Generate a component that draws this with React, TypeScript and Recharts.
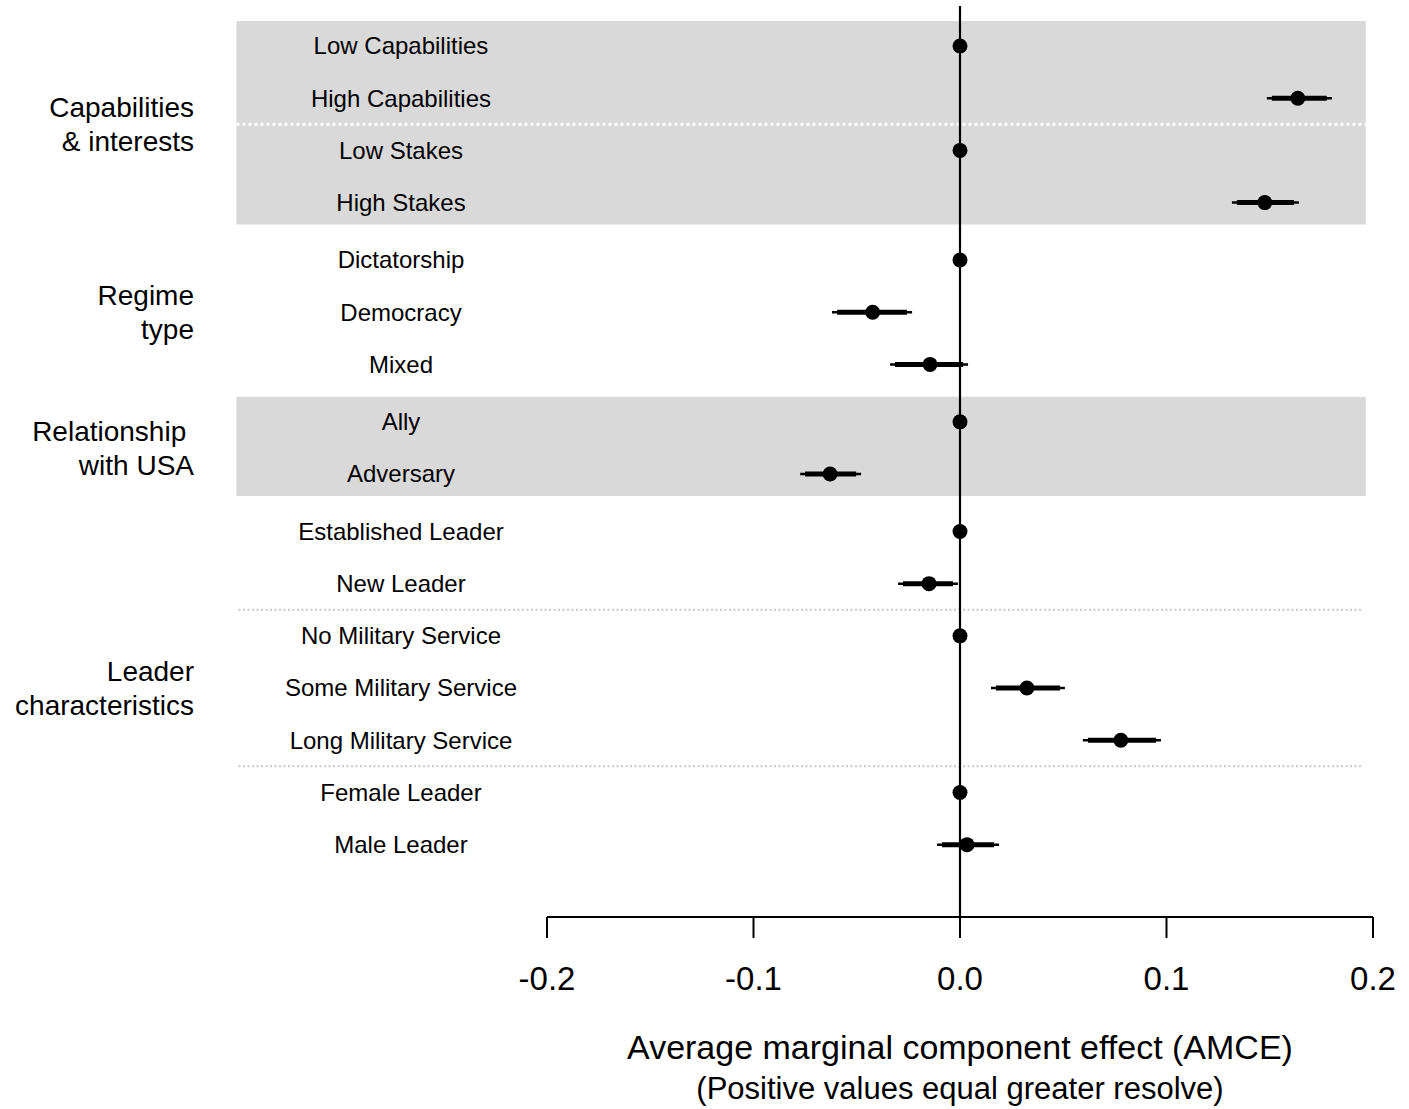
import {
  ScatterChart,
  Scatter,
  XAxis,
  YAxis,
  ErrorBar,
  ReferenceArea,
  ReferenceLine,
} from 'recharts';

// Row labels, top to bottom
const rowLabels = [
  'Low Capabilities',
  'High Capabilities',
  'Low Stakes',
  'High Stakes',
  'Dictatorship',
  'Democracy',
  'Mixed',
  'Ally',
  'Adversary',
  'Established Leader',
  'New Leader',
  'No Military Service',
  'Some Military Service',
  'Long Military Service',
  'Female Leader',
  'Male Leader',
];

// AMCE point estimates and interval bounds
const estimates = [0, 0.1636, 0, 0.1476, 0, -0.0423, -0.0145, 0, -0.0629, 0, -0.015, 0, 0.0324, 0.0779, 0, 0.0034];
const lower95 = [0, 0.1486, 0, 0.1317, 0, -0.062, -0.0339, 0, -0.0774, 0, -0.03, 0, 0.015, 0.0595, 0, -0.0111];
const upper95 = [0, 0.1801, 0, 0.1641, 0, -0.0232, 0.0039, 0, -0.0479, 0, -0.001, 0, 0.0508, 0.0973, 0, 0.0189];
const lower90 = [0, 0.151, 0, 0.1341, 0, -0.0595, -0.0315, 0, -0.075, 0, -0.0276, 0, 0.0174, 0.062, 0, -0.0087];
const upper90 = [0, 0.1776, 0, 0.1617, 0, -0.0257, 0.0015, 0, -0.0503, 0, -0.0034, 0, 0.0484, 0.0949, 0, 0.0165];

// Attribute groups: label lines and first/last row (1-based)
const groupNames = [
  ['Capabilities', '& interests'],
  ['Regime', 'type'],
  ['Relationship\u00a0', 'with USA'],
  ['Leader', 'characteristics'],
];
const groupRows = [
  [1, 4],
  [5, 7],
  [8, 9],
  [10, 16],
];
const shadedGroups = [0, 2];
// dividers sit between row n and row n+1
const whiteDividersAfter = [2];
const grayDividersAfter = [11, 14];

const xTicks = [-0.2, -0.1, 0, 0.1, 0.2];
const bandX = [-0.3504, 0.1965];

// small extra space between attribute groups (fraction of a row)
const GROUP_GAP = 0.1;

const FONT = '"Liberation Sans", Arial, Helvetica, sans-serif';

const groupOf = (row: number) => groupRows.findIndex(([a, b]) => row >= a && row <= b);
const rowPos = (row: number) => row + GROUP_GAP * groupOf(row);
const rowPositions = rowLabels.map((_, i) => rowPos(i + 1));

const data = rowLabels.map((label, i) => ({
  label,
  pos: rowPositions[i],
  est: estimates[i],
  err95: [estimates[i] - lower95[i], upper95[i] - estimates[i]],
  err90: [estimates[i] - lower90[i], upper90[i] - estimates[i]],
}));

function RowTick(props: any) {
  const { y, payload } = props;
  const idx = rowPositions.findIndex((p) => Math.abs(p - payload.value) < 1e-6);
  if (idx < 0) return null;
  return (
    <text x={401} y={y} dy="0.35em" textAnchor="middle" fontSize={24} fontFamily={FONT} fill="#000">
      {rowLabels[idx]}
    </text>
  );
}

// group title drawn to the left of the row labels, centred on its rows
function GroupLabel(props: any) {
  const { viewBox, lines } = props;
  const y = viewBox ? viewBox.y : 0;
  return (
    <text textAnchor="end" fontSize={28} fontFamily={FONT} fill="#000">
      {lines.map((line: string, i: number) => (
        <tspan key={i} x={194} y={y + (i - (lines.length - 1) / 2) * 34} dy="0.35em">
          {line}
        </tspan>
      ))}
    </text>
  );
}

function XTick(props: any) {
  const { x, y, payload } = props;
  return (
    <text x={x} y={y} dy="0.71em" textAnchor="middle" fontSize={33} fontFamily={FONT} fill="#000">
      {Number(payload.value).toFixed(1)}
    </text>
  );
}

function AxisTitle(props: any) {
  const vb = props.viewBox || {};
  const cx = (vb.x ?? 547) + (vb.width ?? 826) / 2;
  return (
    <g fontFamily={FONT} fill="#000">
      <text x={cx} y={1059} textAnchor="middle" fontSize={34}>
        Average marginal component effect (AMCE)
      </text>
      <text x={cx} y={1099} textAnchor="middle" fontSize={31}>
        (Positive values equal greater resolve)
      </text>
    </g>
  );
}

const Dot = (props: any) => <circle cx={props.cx} cy={props.cy} r={7.5} fill="#000" />;

export default function App() {
  return (
    <div style={{ position: 'absolute', left: 0, top: 0, width: 1409, height: 1109, background: '#fff' }}>
      <ScatterChart width={1409} height={1109} margin={{ top: 6, right: 36, bottom: 0, left: 247 }}>
        <XAxis
          type="number"
          dataKey="est"
          domain={[-0.2, 0.2]}
          ticks={xTicks}
          interval={0}
          height={192}
          tickSize={21}
          tickMargin={29}
          axisLine={{ stroke: '#000', strokeWidth: 2 }}
          tickLine={{ stroke: '#000', strokeWidth: 2 }}
          tick={<XTick />}
          label={<AxisTitle />}
        />
        <YAxis
          yAxisId="rows"
          type="number"
          dataKey="pos"
          domain={[0.234, 17.686]}
          reversed
          ticks={rowPositions}
          interval={0}
          width={300}
          axisLine={false}
          tickLine={false}
          tick={<RowTick />}
        />
        {shadedGroups.map((g) => (
          <ReferenceArea
            key={`band-${g}`}
            yAxisId="rows"
            x1={bandX[0]}
            x2={bandX[1]}
            y1={rowPos(groupRows[g][0]) - 0.48}
            y2={rowPos(groupRows[g][1]) + 0.42}
            fill="#d9d9d9"
            fillOpacity={1}
            stroke="none"
            ifOverflow="visible"
          />
        ))}
        {whiteDividersAfter.map((r) => {
          const y = (rowPos(r) + rowPos(r + 1)) / 2;
          return (
            <ReferenceLine
              key={`w-${r}`}
              yAxisId="rows"
              segment={[
                { x: bandX[0], y },
                { x: bandX[1], y },
              ]}
              stroke="#ffffff"
              strokeWidth={3}
              strokeDasharray="3 3"
              ifOverflow="visible"
            />
          );
        })}
        {grayDividersAfter.map((r) => {
          const y = (rowPos(r) + rowPos(r + 1)) / 2;
          return (
            <ReferenceLine
              key={`g-${r}`}
              yAxisId="rows"
              segment={[
                { x: bandX[0] + 0.001, y },
                { x: bandX[1] - 0.002, y },
              ]}
              stroke="#c8c8c8"
              strokeWidth={2}
              strokeDasharray="2 2.5"
              ifOverflow="visible"
            />
          );
        })}
        {groupRows.map(([a, b], g) => (
          <ReferenceLine
            key={`grp-${g}`}
            yAxisId="rows"
            y={(rowPos(a) + rowPos(b)) / 2}
            stroke="none"
            ifOverflow="visible"
            label={<GroupLabel lines={groupNames[g]} />}
          />
        ))}
        <ReferenceLine yAxisId="rows" x={0} stroke="#000" strokeWidth={2.2} />
        <Scatter yAxisId="rows" data={data} shape={Dot} isAnimationActive={false}>
          <ErrorBar dataKey="err95" direction="x" width={0} stroke="#000" strokeWidth={2.5} />
          <ErrorBar dataKey="err90" direction="x" width={0} stroke="#000" strokeWidth={5} />
        </Scatter>
      </ScatterChart>
    </div>
  );
}
